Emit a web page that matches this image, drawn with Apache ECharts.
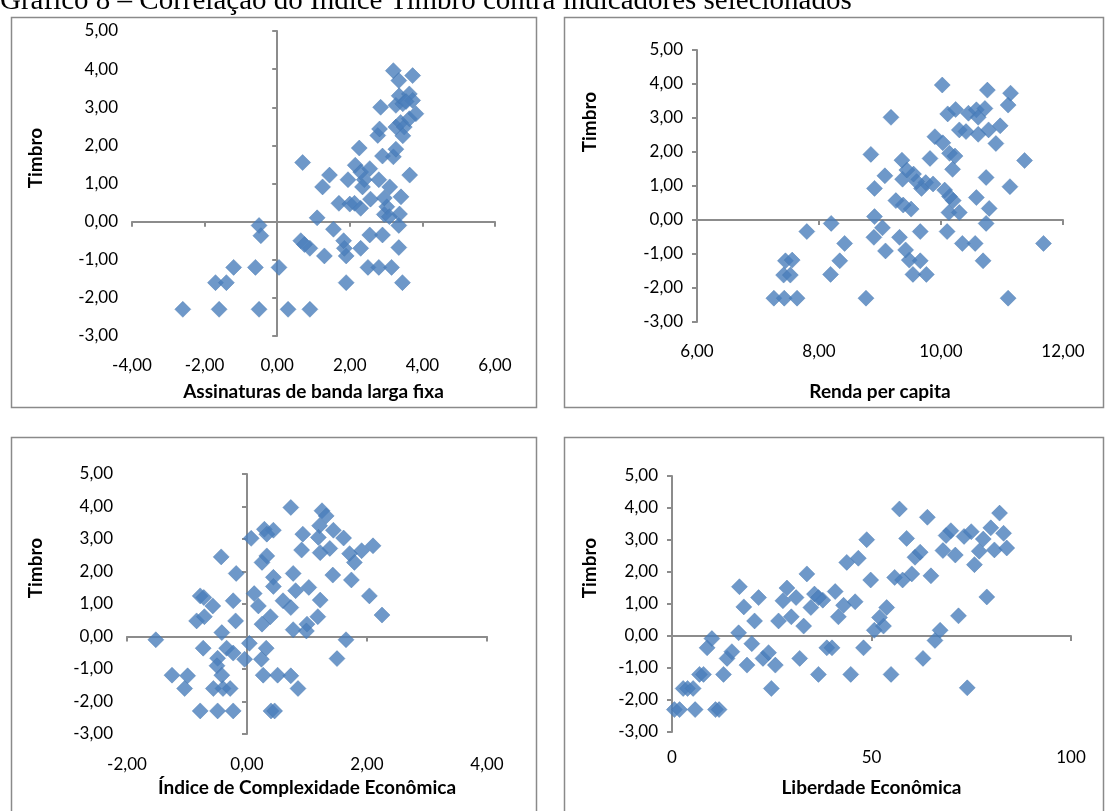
<!DOCTYPE html>
<html>
<head>
<meta charset="utf-8">
<title>Gráfico 8</title>
<script src="https://cdn.jsdelivr.net/npm/echarts@6/dist/echarts.min.js"></script>
<style>
  html, body { margin: 0; padding: 0; background: #fff; }
  #main { width: 1105px; height: 811px; }
</style>
</head>
<body>
<div id="main"></div>
<script>
// Índice Timbro (eixo Y) contra cada indicador (eixo X), pares [x, y]
const bandaLarga = [
  [-2.6, -2.3], [-1.6, -2.3], [-0.5, -2.3], [0.3, -2.3], [0.9, -2.3],
  [-1.7, -1.6], [-1.4, -1.6], [1.9, -1.6], [3.45, -1.6],
  [-1.2, -1.2], [-0.6, -1.2], [0.05, -1.2], [2.5, -1.2], [2.8, -1.2], [3.15, -1.2],
  [1.3, -0.9], [1.9, -0.9], [0.9, -0.7], [2.3, -0.7], [3.35, -0.68], [1.85, -0.7],
  [0.65, -0.5], [1.83, -0.5], [0.75, -0.6],
  [1.55, -0.2], [2.55, -0.35], [2.9, -0.35], [3.35, -0.1], [-0.5, -0.1], [-0.45, -0.37],
  [1.1, 0.1], [2.95, 0.19], [3.37, 0.2], [3.02, 0.39], [3.09, 0.13],
  [1.7, 0.48], [2.0, 0.46], [2.3, 0.35], [2.57, 0.59], [2.95, 0.62], [3.41, 0.65], [2.13, 0.48],
  [1.25, 0.91], [1.44, 1.22], [1.95, 1.1], [2.15, 1.48], [2.4, 1.1], [2.35, 0.91], [2.3, 1.3],
  [2.55, 1.39], [2.8, 1.1], [3.1, 0.91], [3.65, 1.22], [0.7, 1.55],
  [2.26, 1.93], [2.9, 1.72], [3.2, 1.7], [3.27, 1.9],
  [2.77, 2.26], [2.82, 2.43], [3.27, 2.48], [3.4, 2.6], [3.5, 2.48], [3.46, 2.25], [3.64, 2.7], [3.82, 2.83],
  [2.85, 3.0], [3.27, 3.05], [3.46, 3.09], [3.36, 3.3], [3.64, 3.35], [3.73, 3.18], [3.55, 3.15],
  [3.2, 3.96], [3.35, 3.7], [3.73, 3.83]
];

const rendaPerCapita = [
  [7.26, -2.3], [7.43, -2.3], [7.64, -2.3], [8.77, -2.3], [11.1, -2.3],
  [7.42, -1.62], [7.53, -1.62], [8.19, -1.6], [9.54, -1.6], [9.76, -1.6],
  [7.45, -1.2], [7.56, -1.18], [8.34, -1.2], [9.48, -1.18], [9.66, -1.2], [10.69, -1.2],
  [9.09, -0.91], [9.42, -0.88], [8.42, -0.69], [10.35, -0.69], [10.56, -0.69], [11.68, -0.69],
  [8.9, -0.51], [9.32, -0.51], [7.8, -0.34], [9.66, -0.34], [10.1, -0.34], [9.04, -0.23],
  [8.2, -0.1], [10.74, -0.1], [8.91, 0.1], [10.13, 0.22], [10.3, 0.22], [10.79, 0.34],
  [9.51, 0.32], [9.38, 0.44], [9.26, 0.57], [10.2, 0.57], [10.58, 0.66], [10.14, 0.69],
  [10.06, 0.88], [8.91, 0.93], [11.13, 0.98], [9.68, 0.93], [9.75, 1.1], [9.87, 1.06],
  [9.6, 1.13], [9.37, 1.2], [9.55, 1.35], [9.44, 1.47], [9.08, 1.3], [10.74, 1.25],
  [10.19, 1.49], [9.36, 1.76], [9.82, 1.81], [11.37, 1.75], [8.85, 1.93], [10.14, 1.96],
  [10.23, 1.88], [10.9, 2.25], [9.9, 2.45], [10.03, 2.27], [10.3, 2.65], [10.41, 2.6],
  [10.61, 2.52], [10.78, 2.65], [10.97, 2.77], [9.18, 3.02], [10.11, 3.12], [10.24, 3.25],
  [10.45, 3.14], [10.58, 3.24], [10.61, 3.02], [10.72, 3.28], [11.1, 3.38], [11.14, 3.73],
  [10.76, 3.82], [10.02, 3.97]
];

const complexidade = [
  [0.73, 3.97], [1.25, 3.87], [1.32, 3.71], [1.21, 3.41], [0.29, 3.3], [0.44, 3.27],
  [0.33, 3.15], [0.93, 3.15], [1.19, 3.05], [1.44, 3.27], [1.61, 3.03], [0.07, 3.02],
  [2.1, 2.79], [1.91, 2.64], [1.71, 2.55], [1.79, 2.28], [1.38, 2.71], [1.22, 2.58],
  [0.91, 2.66], [0.33, 2.48], [0.25, 2.28], [-0.43, 2.45], [-0.18, 1.94], [0.77, 1.94],
  [1.43, 1.89], [1.74, 1.74], [0.44, 1.82], [0.44, 1.54], [0.81, 1.41], [1.03, 1.51],
  [0.12, 1.32], [-0.78, 1.25], [-0.72, 1.2], [-0.23, 1.1], [0.19, 0.94], [0.6, 1.1],
  [0.73, 0.89], [1.22, 1.12], [2.04, 1.25], [-0.57, 0.94], [0.39, 0.61], [0.25, 0.38],
  [1.18, 0.61], [2.25, 0.66], [-0.84, 0.48], [-0.71, 0.61], [-0.19, 0.48], [-0.42, 0.12],
  [0.77, 0.21], [1.0, 0.38], [0.99, 0.17], [-1.52, -0.1], [0.04, -0.21], [1.65, -0.1],
  [-0.73, -0.36], [-0.34, -0.36], [-0.23, -0.51], [0.32, -0.36], [-0.49, -0.67], [-0.04, -0.7],
  [0.24, -0.7], [1.5, -0.68], [-0.5, -0.9], [-0.42, -1.19], [-1.25, -1.19], [-0.99, -1.21],
  [0.27, -1.19], [0.51, -1.19], [0.73, -1.21], [-1.04, -1.6], [-0.56, -1.6], [-0.4, -1.6],
  [-0.28, -1.6], [0.85, -1.6], [-0.78, -2.29], [-0.49, -2.29], [-0.23, -2.29], [0.4, -2.29],
  [0.46, -2.29]
];

const liberdade = [
  [0.6, -2.3], [1.9, -2.3], [5.8, -2.3], [10.9, -2.3], [11.8, -2.3],
  [2.8, -1.64], [3.9, -1.64], [5.3, -1.64], [24.9, -1.64], [74.0, -1.62],
  [6.9, -1.2], [7.9, -1.2], [12.9, -1.2], [36.7, -1.2], [44.8, -1.2], [54.9, -1.2],
  [13.8, -0.7], [15.0, -0.49], [18.8, -0.91], [22.8, -0.7], [24.2, -0.52], [25.9, -0.91],
  [32.0, -0.7], [62.9, -0.7], [8.8, -0.37], [10.0, -0.08], [20.0, -0.24], [38.8, -0.37],
  [40.1, -0.37], [48.0, -0.37], [65.9, -0.14], [16.7, 0.1], [67.2, 0.18], [50.7, 0.18],
  [53.0, 0.31], [52.0, 0.58], [53.8, 0.89], [71.8, 0.63], [20.7, 0.47], [26.7, 0.47],
  [29.9, 0.6], [33.0, 0.31], [41.7, 0.6], [18.0, 0.91], [34.8, 0.89], [21.7, 1.2],
  [27.8, 1.1], [31.1, 1.2], [37.8, 1.12], [43.0, 0.96], [45.9, 1.07], [28.8, 1.5],
  [35.7, 1.31], [36.7, 1.2], [40.9, 1.39], [78.9, 1.22], [16.9, 1.54], [33.8, 1.94],
  [49.8, 1.75], [55.8, 1.83], [57.8, 1.75], [60.1, 1.94], [64.9, 1.88], [43.8, 2.3],
  [46.7, 2.43], [60.9, 2.46], [62.2, 2.62], [67.9, 2.67], [71.0, 2.53], [75.8, 2.23],
  [77.0, 2.65], [80.8, 2.69], [83.9, 2.75], [48.8, 3.01], [58.8, 3.05], [68.7, 3.14],
  [69.9, 3.29], [73.2, 3.11], [75.0, 3.26], [78.0, 3.03], [79.9, 3.38], [83.1, 3.21],
  [57.0, 3.97], [64.0, 3.71], [82.1, 3.84]
];

const xTitles = ['Assinaturas de banda larga fixa', 'Renda per capita', 'Índice de Complexidade Econômica', 'Liberdade Econômica'];
const yTitle = 'Timbro';
const chartTitle = 'Gráfico 8 – Correlação do Índice Timbro contra indicadores selecionados';

const comma2 = v => v.toFixed(2).replace('.', ',');
const axisGray = '#8c8c8c';
const labelFont = 'Lato';

// layout of the four panels (plot area, frame, axis ranges)
const panels = [
  { data: bandaLarga, grid: { left: 132, top: 31, width: 363, height: 305 }, frame: [11, 17, 525, 390],
    xMin: -4, xMax: 6, xStep: 2, xFmt: comma2, nameGap: 46, labelMargin: 21, yTitlePos: [36, 158] },
  { data: rendaPerCapita, grid: { left: 697, top: 50, width: 366, height: 272 }, frame: [564, 17, 539, 390],
    xMin: 6, xMax: 12, xStep: 2, xFmt: comma2, nameGap: 60, labelMargin: 21, yTitlePos: [590, 122] },
  { data: complexidade, grid: { left: 127, top: 474, width: 360, height: 260 }, frame: [11, 437, 525, 380],
    xMin: -2, xMax: 4, xStep: 2, xFmt: comma2, nameGap: 44, labelMargin: 22, yTitlePos: [36, 568] },
  { data: liberdade, grid: { left: 672, top: 476, width: 399, height: 256 }, frame: [564, 437, 539, 380],
    xMin: 0, xMax: 100, xStep: 50, xFmt: v => String(v), nameGap: 46, labelMargin: 17, yTitlePos: [590, 568] }
];

const chart = echarts.init(document.getElementById('main'), null, { renderer: 'canvas' });

const grids = [], xAxes = [], yAxes = [], series = [];
const graphics = [
  { type: 'text', x: 0, y: 16, z: 10,
    style: { text: chartTitle, font: '29px "Liberation Serif"', fill: '#000', verticalAlign: 'bottom' } }
];

panels.forEach((p, i) => {
  grids.push(Object.assign({ containLabel: false }, p.grid));
  // axis drawn through zero (line + ticks)
  xAxes.push({
    type: 'value', gridIndex: i, min: p.xMin, max: p.xMax, interval: p.xStep, position: 'bottom',
    axisLine: { show: true, onZero: true, lineStyle: { color: axisGray, width: 2 } },
    axisTick: { show: true, length: 5, lineStyle: { color: axisGray, width: 2 } },
    axisLabel: { show: false }, splitLine: { show: false }
  });
  // same scale, only the labels and title at the bottom
  xAxes.push({
    type: 'value', gridIndex: i, min: p.xMin, max: p.xMax, interval: p.xStep, position: 'bottom',
    axisLine: { show: false, onZero: false }, axisTick: { show: false }, splitLine: { show: false },
    axisLabel: { show: true, margin: p.labelMargin, formatter: p.xFmt, color: '#000', fontSize: 17, fontFamily: labelFont },
    name: xTitles[i], nameLocation: 'middle', nameGap: p.nameGap,
    nameTextStyle: { color: '#000', fontSize: 19, fontWeight: 'bold', fontFamily: labelFont }
  });
  yAxes.push({
    type: 'value', gridIndex: i, min: -3, max: 5, interval: 1, position: 'left',
    axisLine: { show: true, onZero: true, lineStyle: { color: axisGray, width: 2 } },
    axisTick: { show: true, length: 5, lineStyle: { color: axisGray, width: 2 } },
    axisLabel: { show: false }, splitLine: { show: false }
  });
  yAxes.push({
    type: 'value', gridIndex: i, min: -3, max: 5, interval: 1, position: 'left',
    axisLine: { show: false, onZero: false }, axisTick: { show: false }, splitLine: { show: false },
    axisLabel: { show: true, margin: 14, formatter: comma2, color: '#000', fontSize: 17, fontFamily: labelFont }
  });
  series.push({
    type: 'scatter', xAxisIndex: 2 * i, yAxisIndex: 2 * i,
    data: p.data, symbol: 'diamond', symbolSize: 16,
    itemStyle: { color: '#4a7ebb', borderColor: '#4172ad', borderWidth: 0.5 },
    emphasis: { disabled: true }
  });
  graphics.push({
    type: 'rect', z: -1,
    shape: { x: p.frame[0] + 0.5, y: p.frame[1] + 0.5, width: p.frame[2], height: p.frame[3] },
    style: { fill: 'none', stroke: '#8a8a8a', lineWidth: 1.5 }
  });
  graphics.push({
    type: 'text', x: p.yTitlePos[0], y: p.yTitlePos[1], rotation: Math.PI / 2,
    style: { text: yTitle, font: 'bold 19px ' + labelFont, fill: '#000', align: 'center', verticalAlign: 'middle' }
  });
});

chart.setOption({
  backgroundColor: '#fff',
  animation: false,
  grid: grids,
  xAxis: xAxes,
  yAxis: yAxes,
  series: series,
  graphic: graphics
});
</script>
</body>
</html>
